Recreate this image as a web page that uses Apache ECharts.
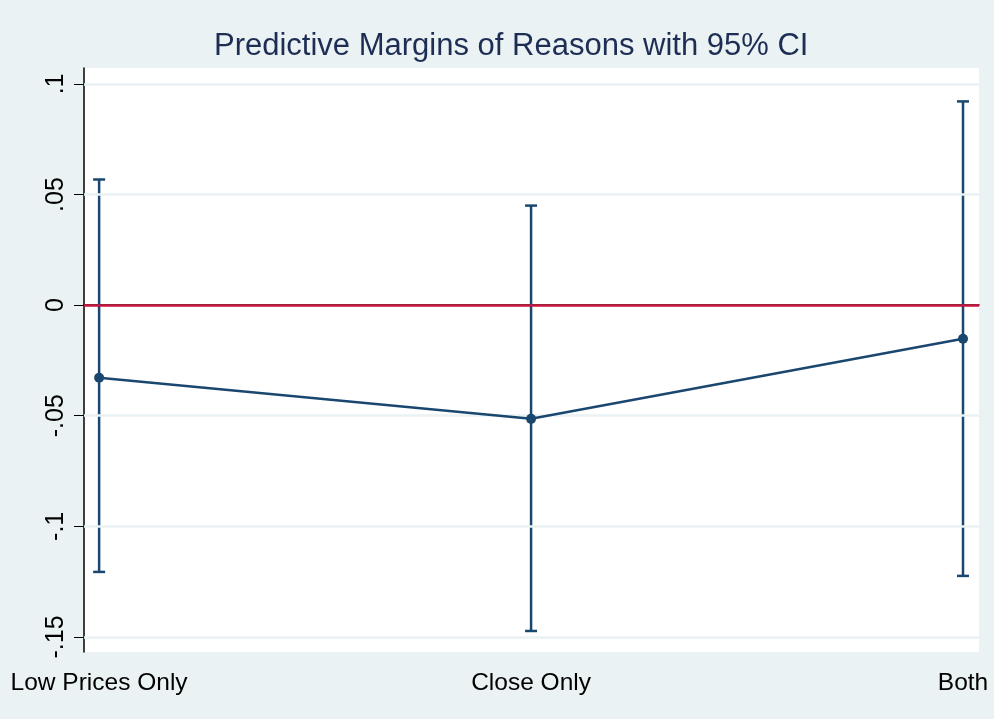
<!DOCTYPE html>
<html>
<head>
<meta charset="utf-8">
<script src="https://cdn.jsdelivr.net/npm/echarts@6/dist/echarts.min.js"></script>
<style>
  html, body { margin: 0; padding: 0; background: #eaf2f3; }
  #chart { width: 994px; height: 719px; }
</style>
</head>
<body>
<div id="chart"></div>
<script>
// categories sit at x = 1, 2, 3
const categories = ['Low Prices Only', 'Close Only', 'Both']
const categoryPos = [1, 2, 3]
const margins = [-0.0328, -0.0514, -0.0152]
const ciLow = [-0.1206, -0.1473, -0.1224]
const ciHigh = [0.0568, 0.0450, 0.0921]
const yTicks = [-0.15, -0.1, -0.05, 0, 0.05, 0.1]

const navy = '#1a476f'

const chart = echarts.init(document.getElementById('chart'))

// stata style labels: .1, -.05, 0
const fmtY = (v) => {
  if (Math.abs(v) < 1e-9) return '0'
  let s = String(Math.round(v * 100) / 100)
  return s.replace('0.', '.')
}

const option = {
  backgroundColor: '#eaf2f3',
  animation: false,
  title: {
    text: 'Predictive Margins of Reasons with 95% CI',
    left: 209,
    top: 26,
    textStyle: {
      fontFamily: 'Liberation Sans',
      fontSize: 31,
      fontWeight: 'normal',
      color: '#1e2d53'
    }
  },
  grid: {
    left: 84,
    right: 15,
    top: 68,
    bottom: 67,
    show: true,
    backgroundColor: '#fff',
    borderWidth: 0
  },
  xAxis: {
    type: 'value',
    min: 0.965,
    max: 3.037,
    splitLine: { show: false },
    axisLine: { lineStyle: { color: '#000', width: 1.5 } },
    axisTick: { customValues: categoryPos, length: 10, lineStyle: { color: '#000' } },
    axisLabel: {
      customValues: categoryPos,
      formatter: (v) => categories[categoryPos.indexOf(Math.round(v))] || '',
      fontFamily: 'Liberation Sans',
      fontSize: 24.5,
      color: '#000',
      margin: 19
    }
  },
  yAxis: {
    type: 'value',
    min: -0.1568,
    max: 0.1072,
    splitLine: { show: false },
    axisLine: { show: true, lineStyle: { color: '#000', width: 1.5 } },
    axisTick: { customValues: yTicks, length: 10, lineStyle: { color: '#000' } },
    axisLabel: {
      customValues: yTicks,
      formatter: fmtY,
      rotate: 90,
      fontFamily: 'Liberation Sans',
      fontSize: 25,
      color: '#000',
      margin: 15
    }
  },
  series: [
    {
      type: 'line',
      data: categoryPos.map((x, i) => [x, margins[i]]),
      symbol: 'circle',
      symbolSize: 10,
      lineStyle: { color: navy, width: 2.5 },
      itemStyle: { color: navy },
      z: 5,
      markLine: {
        silent: true,
        symbol: 'none',
        label: { show: false },
        data: yTicks.filter(v => v !== 0).map(v => ({
          yAxis: v,
          lineStyle: { color: '#eaf2f3', width: 2.5, type: 'solid' }
        })).concat([{
          yAxis: 0,
          lineStyle: { color: '#c4163f', width: 2.5, type: 'solid' }
        }])
      }
    },
    {
      type: 'custom',
      data: categoryPos.map((x, i) => [x, ciLow[i], ciHigh[i]]),
      z: 4,
      renderItem: (params, api) => {
        const lo = api.coord([api.value(0), api.value(1)])
        const hi = api.coord([api.value(0), api.value(2)])
        const w = 6
        const style = { stroke: navy, lineWidth: 2.5 }
        return {
          type: 'group',
          children: [
            { type: 'line', shape: { x1: lo[0], y1: lo[1], x2: hi[0], y2: hi[1] }, style },
            { type: 'line', shape: { x1: hi[0] - w, y1: hi[1], x2: hi[0] + w, y2: hi[1] }, style },
            { type: 'line', shape: { x1: lo[0] - w, y1: lo[1], x2: lo[0] + w, y2: lo[1] }, style }
          ]
        }
      }
    }
  ]
}

chart.setOption(option)
</script>
</body>
</html>
